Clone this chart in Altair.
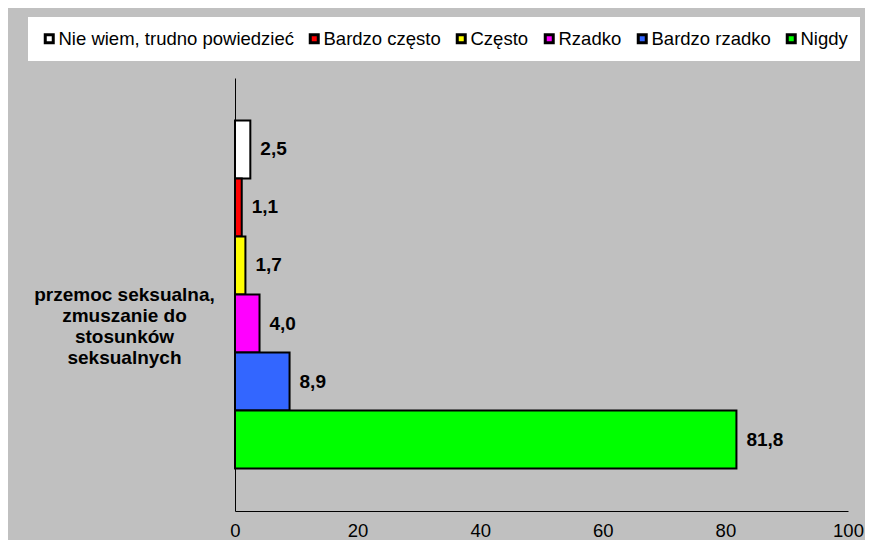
import altair as alt
import pandas as pd

category_lines = ["przemoc seksualna,", "zmuszanie do", "stosunków", "seksualnych"]
series = ["Nie wiem, trudno powiedzieć", "Bardzo często", "Często", "Rzadko", "Bardzo rzadko", "Nigdy"]
values = [2.5, 1.1, 1.7, 4.0, 8.9, 81.8]
colors = ["#ffffff", "#ff0000", "#ffff00", "#ff00ff", "#3366ff", "#00ff00"]
x_ticks = [0, 20, 40, 60, 80, 100]

category = "|".join(category_lines)
df = pd.DataFrame({
    "kategoria": [category] * len(series),
    "odpowiedz": series,
    "wartosc": values,
})

FONT = "Liberation Sans"

base = alt.Chart(df).encode(
    y=alt.Y(
        "kategoria:N",
        title=None,
        scale=alt.Scale(paddingInner=0, paddingOuter=0.122),
        axis=alt.Axis(
            domain=True, domainColor="black", domainWidth=1,
            ticks=False, grid=False,
            labelExpr="split(datum.label, '|')",
            labelAlign="center", labelBaseline="middle",
            labelPadding=111, labelFont=FONT, labelFontSize=19,
            labelFontWeight="bold", labelLineHeight=21, labelColor="black",
            labelLimit=400,
        ),
    ),
    yOffset=alt.YOffset(
        "odpowiedz:N", sort=series,
        scale=alt.Scale(paddingInner=0, paddingOuter=0),
    ),
)

xenc = alt.X(
    "wartosc:Q",
    title=None,
    scale=alt.Scale(domain=[0, 100], nice=False),
    axis=alt.Axis(
        values=x_ticks, grid=False, ticks=False,
        domainColor="black", domainWidth=1,
        labelFont=FONT, labelFontSize=18.5, labelColor="black",
        labelPadding=10, labelFlush=False,
    ),
)

bars = base.mark_bar(stroke="black", strokeWidth=2).encode(
    x=xenc,
    color=alt.Color(
        "odpowiedz:N", sort=series,
        scale=alt.Scale(domain=series, range=colors),
        legend=alt.Legend(
            orient="none", legendX=-207, legendY=-61,
            direction="horizontal", columns=6, title=None,
            fillColor="white", padding=12,
            symbolType="square", symbolSize=64,
            symbolStrokeColor="black", symbolStrokeWidth=3,
            symbolOpacity=1,
            labelFont=FONT, labelFontSize=18.5, labelColor="black",
            labelOffset=0, columnPadding=10, labelLimit=400,
        ),
    ),
)

labels = base.mark_text(
    align="left", baseline="middle", dx=10,
    font=FONT, fontSize=19, fontWeight="bold", color="black",
).transform_calculate(
    etykieta="replace(format(datum.wartosc, '.1f'), '.', ',')"
).encode(
    x=alt.X("wartosc:Q"),
    text="etykieta:N",
)

chart = alt.layer(bars, labels).properties(
    width=613,
    height=433,
    autosize=alt.AutoSizeParams(type="none"),
    padding={"left": 227, "top": 70, "right": 17, "bottom": 29},
    background="#c0c0c0",
).configure_view(stroke="transparent")

chart.save("out.html", embed_options={"renderer": "svg", "actions": False})
